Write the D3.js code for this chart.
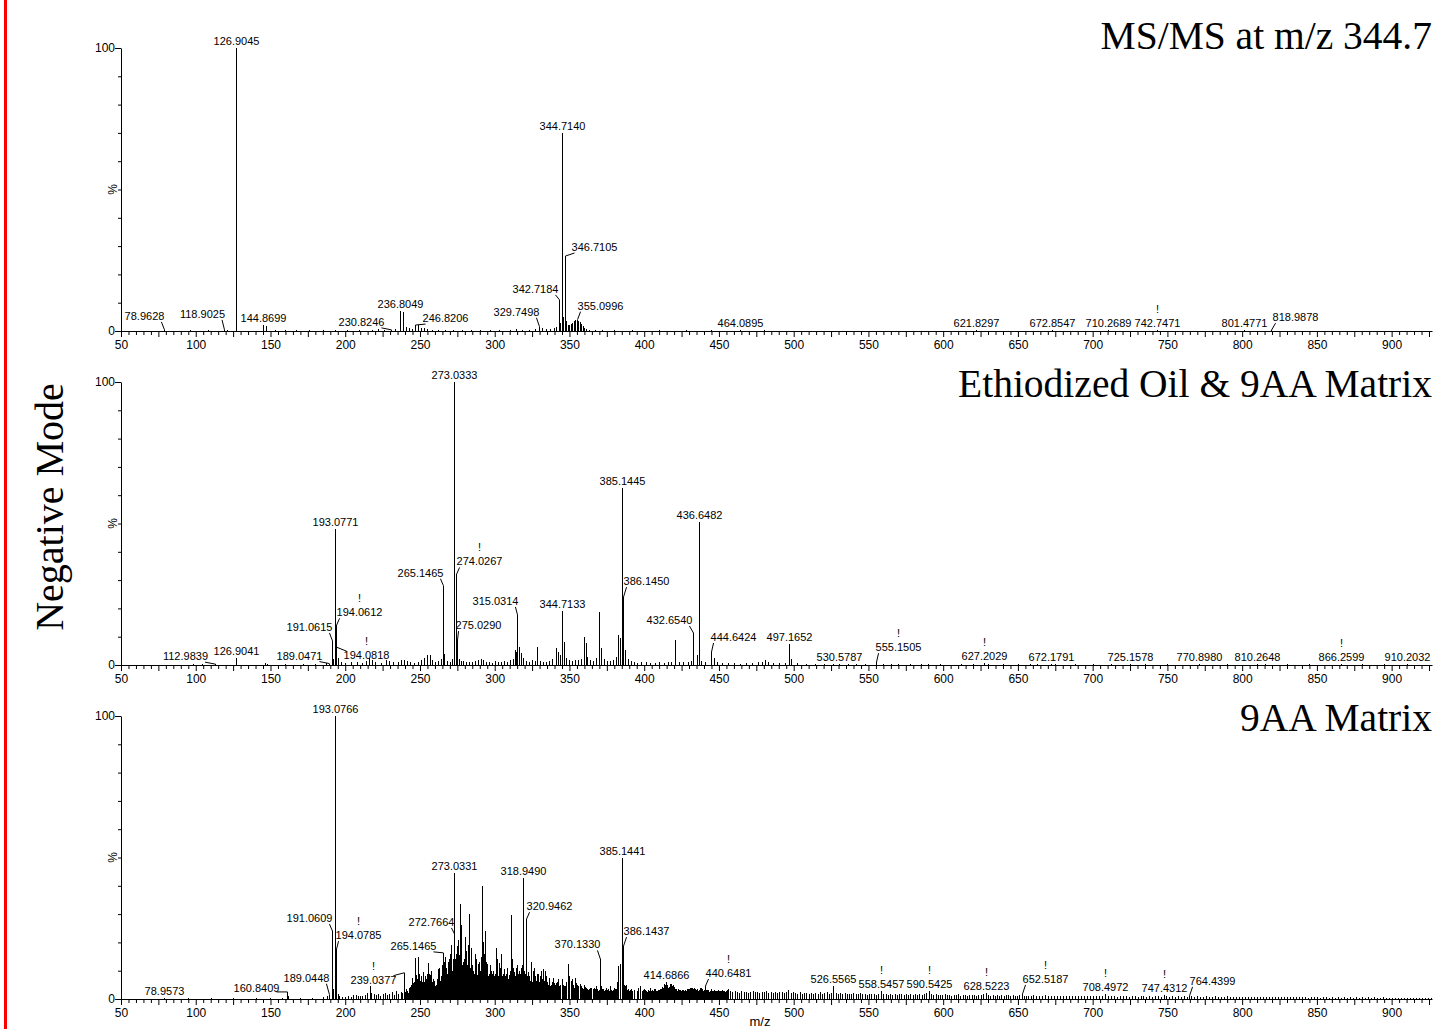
<!DOCTYPE html>
<html>
<head>
<meta charset="utf-8">
<script src="https://cdn.jsdelivr.net/npm/d3@7"></script>
<style>
  body { margin: 0; background: #fff; }
  svg { display: block; }
  .peak-label, .bang { font-family: Arial, "Liberation Sans", sans-serif; font-size: 11px; fill: #000; }
  .title { font-family: "Times New Roman", "Liberation Serif", serif; font-size: 39.5px; fill: #000; }
</style>
</head>
<body>
<svg id="chart" width="1434" height="1029"></svg>
<script>
// ---- data: [m/z, relative intensity %] ----

// MS/MS at m/z 344.7
const labeled1 = [[78.9628,0.4],[118.9025,0.4],[126.9045,100],[144.8699,2],[230.8246,0.4],[236.8049,7.2],
  [246.8206,2.1],[329.7498,1.5],[342.7184,11],[344.7140,70],[346.7105,26.5],[355.0996,4],[464.0895,0.3],
  [621.8297,0.2],[672.8547,0.2],[710.2689,0.2],[742.7471,0.2],[801.4771,0.2],[818.9878,0.3]];
const noise1 = [[96,0.2],[108,0.3],[121,0.3],[146.87,1.9],[153,0.3],[160,0.4],[167,0.5],[176,0.3],[185,0.4],
  [193,0.3],[201,0.3],[209,0.4],[218,0.5],[222,0.7],[226,0.5],[233,0.6],[238.80,6.6],[240.8,1.5],[242.8,1.2],
  [244.8,0.8],[248.8,2],[250.8,1.2],[252.8,0.9],[255,0.7],[258,0.5],[262,0.4],[267,0.4],[272,0.5],[278,0.3],
  [284,0.4],[290,0.3],[297,0.4],[303,0.3],[310,0.5],[314,0.6],[318,0.4],[323,0.5],[327,0.6],[331.7,0.9],
  [334,0.7],[337,0.8],[339.7,1.2],[341,1.5],[343.7,3],[345.7,5],[347.7,3.5],[349,2],[350,2.2],[351,2.6],
  [352,3],[353,3.4],[354,3.8],[356,3.6],[357,3.2],[358,2.5],[359,1.8],[360,1.2],[361,0.8],[363,0.4],
  [367,0.3],[372,0.2],[380,0.2],[392,0.2],[410,0.2],[428,0.2],[445,0.2],[480,0.2],[520,0.15],[560,0.15],
  [600,0.15],[640,0.15],[690,0.15],[760,0.15],[850,0.15],[900,0.15]];

// Ethiodized Oil & 9AA Matrix
const labeled2 = [[112.9839,0.3],[126.9041,2.6],[189.0471,0.5],[191.0615,8.5],[193.0771,48],[194.0612,14],
  [194.0818,6.3],[265.1465,28],[273.0333,100],[274.0267,32],[275.0290,8.8],[315.0314,17.7],[344.7133,19.2],
  [385.1445,62.5],[386.1450,24],[432.6540,11.3],[436.6482,50.5],[444.6424,4.6],[497.1652,7.3],[530.5787,0.5],
  [555.1505,1],[627.2029,0.6],[672.1791,0.5],[725.1578,0.3],[770.8980,0.3],[810.2648,0.3],[866.2599,0.3],
  [910.2032,0.3]];
const noise2 = [[98,0.2],[104,0.2],[146,0.6],[148,0.5],[160,0.2],[172,0.3],[180,0.3],[187,0.6],[192,2],
  [195.3,2.4],[197,1],[200,0.8],[204,0.9],[208,1.2],[211,0.8],[214,1.4],[216,2.4],[218,1.7],[220,1.2],
  [224,0.8],[227,1.8],[229,1.5],[232,1],[235,1.2],[237,1.6],[239,1.8],[241,1.5],[243,1],[246,0.8],[249,1],
  [251,1.6],[252.6,2.5],[254.4,3.4],[256.6,3.5],[258,1.6],[260,1.2],[262,1.5],[264,2],[266.2,3.8],[268,1.5],
  [270,1.2],[271.5,2.2],[276,2],[277.5,1.5],[279,1.3],[281,1.2],[283,1],[285,0.9],[287,1.3],[289,1.8],
  [290.5,2.2],[292,1.8],[294,1.2],[296,0.9],[298,0.8],[300,1.3],[302,1.1],[304,1],[306,1.4],[308,1.2],
  [310,1.8],[312,2.2],[313.5,5.3],[314.2,4.7],[316.5,6.3],[317.5,4.2],[319,2.5],[321,1.5],[323,1.2],
  [325,1.6],[327,1.3],[328.3,6.5],[330,1.4],[332,1.2],[334,1],[336,1.3],[338,2],[340.7,5.9],[342,4.7],
  [343.5,3.5],[346.4,8],[348,2.5],[350,1.6],[352,1.4],[354,1.8],[356,1.6],[358,2.2],[359.8,9.8],[360.9,7.7],
  [362,3],[364,1.8],[366,1.5],[367.5,2.5],[369.8,18.7],[371,5.9],[373,2],[375,1.5],[377,1.3],[379,1.8],
  [381,3],[382.8,10.6],[383.9,9.4],[387.2,5.3],[389,2],[391,1.3],[393,1],[395,0.8],[398,0.9],[401,1],
  [404,0.8],[407,0.7],[410,0.9],[413,0.8],[416,1],[418,0.9],[420.6,8.8],[423,1.2],[426,0.9],[429,1],
  [431,1.5],[435,3.5],[438,1.5],[441,1],[446.7,2.6],[449,1.2],[452,0.8],[456,0.6],[460,0.7],[464,0.5],
  [468,0.6],[472,0.7],[476,0.9],[479,1.2],[480.6,1.8],[483,1],[486,0.7],[490,0.6],[494,0.7],[498.5,2],
  [502,0.6],[508,0.5],[514,0.5],[520,0.4],[526,0.4],[536,0.4],[542,0.3],[548,0.3],[560,0.4],[565,0.5],
  [570,0.4],[578,0.5],[585,0.4],[590,0.3],[598,0.3],[612,0.3],[620,0.4],[630,0.4],[640,0.3],[650,0.4],
  [658,0.5],[663,0.4],[675,0.3],[688,0.3],[700,0.3],[712,0.2],[735,0.2],[750,0.2],[790,0.2],[815,0.3],
  [830,0.2],[845,0.2],[880,0.2],[895,0.2]];

// 9AA Matrix
const labeled3 = [[78.9573,0.5],[160.8409,2.5],[189.0448,1.5],[191.0609,24],[193.0766,100],[194.0785,17.6],
  [239.0377,9.3],[265.1465,16.3],[272.7664,23],[273.0331,44.6],[318.9490,42.9],[320.9462,28.2],[370.1330,14],
  [385.1441,49.8],[386.1437,18.7],[414.6866,6],[440.6481,4.6],[526.5565,4.6],[558.5457,2.8],[590.5425,2.8],
  [628.5223,2.1],[652.5187,1.8],[708.4972,1.8],[747.4312,1.4],[764.4399,1.1]];
const noise3 = [[95,0.2],[110,0.2],[125,0.3],[140,0.3],[150,0.4],[158,0.5],[162,1],[170,0.4],[178,0.5],
  [185,0.8],[188,1],[192,3.5],[195,1.6],[196,1.2],[198,0.8],[200,0.6],[202,0.9],[204,0.7],[205.5,1.5],
  [207,1.3],[208.5,1.2],[210,0.9],[211.5,1],[213,1.4],[214.5,2],[216.5,4.6],[217.5,2.2],[219,1.6],
  [220.5,1.4],[222,1.8],[223.5,1.2],[225,1.6],[226.5,2],[228,1.5],[229.5,1.8],[231,2.3],[232.5,1.4],
  [234,2.8],[235.5,1.6],[237,2.5],[238,2],[240.5,3.4],[242,2.2],[243.5,4.2],[244.8,7.5],[245.5,5.5],
  [246.8,14.6],[247.5,8.5],[248.8,14.8],[249.5,9],[250.6,8.1],[251.5,6],[252.3,9.5],[253.3,8.1],[254,7],
  [255.1,12.8],[256,9],[257,8.5],[258,6],[259,7],[260,4.6],[261,5],[262,10.5],[262.9,11],[264,8],
  [264.6,12],[266,13],[267,15],[268,9],[269.5,14],[270,16],[271,19],[272,14],[274,16],[274.9,18.7],
  [275.5,21],[276,15.5],[276.7,33.5],[277.5,26],[278,12],[279.4,14],[280,22],[281,15],[281.6,11],
  [282.9,29.9],[283.9,18],[284.5,12],[285.5,10],[286.5,16],[287.5,14],[288.5,12.2],[289,12.5],[290,10],
  [291.2,40],[292,20],[293.4,24],[294,13],[295,12.2],[296,9],[297,12],[298,8.5],[299,10],[299.6,8],
  [300.6,18.1],[301.7,14],[302.8,12.8],[303.5,11],[304.5,16],[305.5,9],[306,10.5],[307,8],[308,11],
  [309,7],[310,10],[310.8,29.7],[311.5,14],[312.3,11],[313,9.5],[314.1,11],[315,12],[316,10],[317,9],
  [318,12],[319.5,10],[321.5,8],[322.5,9.5],[323.5,6.5],[324.3,13],[325.3,9.9],[326,11],[327,8],[328,8.7],
  [329,9],[330.8,9.9],[331.5,7],[332.4,10.5],[333.5,10],[334.5,5.5],[336,7.5],[337,4.5],[338,6],[339,7.5],
  [340,5],[341,5.5],[342,7],[343,4.5],[344.7,7],[345.5,5],[346.5,4.5],[347.5,6],[348.7,12.3],[349.5,8],
  [350.7,6.4],[351.5,7],[352.5,5],[353.5,7.5],[354.7,5.8],[355.5,4.5],[356.9,5.2],[358,4.5],[359,3.5],
  [360,5],[361,4],[362,3.5],[363.6,4],[364.5,4],[365.5,3],[367,3.5],[368,4.5],[369,3],[371,4.5],[372,3.5],
  [373,3],[374.5,3.8],[375.5,2.8],[377,4.6],[378,3],[379,3.2],[380,4],[381,3.6],[382.8,11.7],[384.1,12.3],
  [387.5,5],[388,3.5],[389.5,3],[391,3.6],[392,2.8],[393.5,3.2],[395,3],[396,3.8],[397,4.6],[398.5,3],
  [400,3.5],[401,3],[402,2.6],[403.7,4],[405,3],[406.5,3.5],[408,2.7],[409.5,3.2],[411,3.4],[412,4.2],
  [413.2,5.4],[415.5,5],[416.2,4],[417.1,5.2],[418.2,5.2],[419.3,4.9],[420.5,3.6],[422,3],[424,3.2],
  [425.5,2.6],[427,3],[428.5,3.4],[430,3.6],[431.6,4],[433,3.8],[434.5,3.2],[436,3],[437.2,4],[438.5,3.5],
  [439.5,2.8],[442,3.2],[443.5,2.6],[445,3.4],[446.5,3],[448,2.8],[449.5,3.2],[451,2.5],[452.5,3],[454,2.6],
  [456,3.6],[457.5,2.8],[459,2.4],[460.5,3],[462,2.5],[463.5,2.2],[465,2.8],[466.5,2.4],[468,2.6],
  [469.5,2.2],[471,2.5],[472.5,2.8],[474,2.3],[475.5,2.6],[477,2.1],[478.5,2.5],[480,2.3],[481.5,2.7],
  [483,2],[484.5,2.4],[486,2.2],[487.5,2.5],[489,2],[490.5,2.3],[492,2.4],[493.5,2],[495,2.6],[496.5,3.2],
  [498,2.2],[499.5,2.5],[501,2.2],[502.5,1.9],[504,2.3],[505.5,1.8],[507,2.2],[508.5,2],[510,1.7],
  [511.5,2.1],[513,1.8],[514.5,2.2],[516,1.9],[517.5,2.3],[519,1.7],[520.5,2],[522,2.4],[523.5,1.8],
  [525,2.1],[528,2],[529.5,1.7],[531,2.2],[532.5,1.8],[534,2],[535.5,1.6],[537,1.9],[538.5,1.7],[540,2.1],
  [541.5,1.6],[543,1.8],[544.5,2],[546,1.7],[547.5,1.9],[549,1.5],[550.5,1.8],[552,1.6],[553.5,1.9],
  [555,1.5],[556.5,1.7],[560,1.6],[561.5,1.8],[563,1.4],[564.5,1.7],[566,1.5],[567.5,1.8],[569,1.4],
  [570.5,1.6],[572,1.8],[573.5,1.4],[575,1.6],[576.5,1.5],[578,1.7],[579.5,1.3],[581,1.6],[582.5,1.4],
  [584,1.7],[585.5,1.5],[587,1.8],[588.5,2.2],[592,1.6],[593.5,1.4],[595,1.7],[596.5,1.3],[598,1.5],
  [599.5,1.4],[601,1.6],[602.5,1.3],[604,1.5],[605.5,1.2],[607,1.5],[608.5,1.3],[610,1.6],[611.5,1.2],
  [613,1.4],[614.5,1.5],[616,1.2],[617.5,1.4],[619,1.3],[620.5,1.5],[622,1.2],[623.5,1.4],[625,1.3],
  [626.5,1.6],[630,1.4],[631.5,1.2],[633,1.5],[634.5,1.1],[636,1.3],[637.5,1.2],[639,1.4],[640.5,1.1],
  [642,1.3],[643.5,1.5],[645,1.1],[646.5,1.3],[648,1.2],[649.5,1],[651,1.3],[654,1.2],[655.5,1],[657,1.2],
  [658.5,1.1],[660,1.3],[662,1],[664,1.2],[666,1.1],[668,1.4],[670,1],[672,1.2],[674,1.1],[676,0.9],
  [678,1.2],[680,1],[682,1.1],[684,0.9],[686,1.2],[688,1],[690,1.1],[692,0.9],[694,1.1],[696,1],[698,1.2],
  [700,0.9],[702,1.1],[704,1],[706,0.9],[710,1.1],[712,0.9],[714,1],[716,0.8],[718,1.1],[720,0.9],[722,1],
  [724,0.8],[726,1],[728,0.9],[730,0.8],[732,1],[734,0.9],[736,0.8],[738,1],[740,0.8],[742,0.9],[744,1],
  [746,0.8],[749,0.9],[751,0.8],[753,1],[755,0.8],[757,0.9],[759,0.7],[761,0.9],[763,0.8],[766,0.9],
  [768,0.7],[770,0.9],[772,0.8],[774,0.7],[776,0.9],[778,0.8],[780,0.7],[782,0.9],[784,0.7],[786,0.8],
  [788,0.7],[790,0.9],[792,0.7],[794,0.8],[796,0.6],[798,0.8],[800,0.7],[802,0.8],[804,0.6],[806,0.8],
  [808,0.7],[810,0.6],[812,0.8],[814,0.7],[816,0.6],[818,0.8],[820,0.7],[822,0.6],[824,0.7],[826,0.8],
  [828,0.6],[830,0.7],[832,0.6],[834,0.8],[836,0.6],[838,0.7],[840,0.6],[842,0.7],[844,0.5],[846,0.7],
  [848,0.6],[850,0.7],[852,0.5],[854,0.6],[856,0.7],[858,0.5],[860,0.6],[862,0.5],[864,0.7],[866,0.5],
  [868,0.6],[870,0.5],[872,0.6],[874,0.5],[876,0.6],[878,0.5],[880,0.6],[882,0.5],[884,0.6],[886,0.4],
  [888,0.6],[890,0.5],[892,0.4],[894,0.6],[896,0.5],[898,0.4],[900,0.5],[902,0.4],[904,0.5],[906,0.4],
  [908,0.5],[910,0.4],[912,0.5],[914,0.4],[916,0.5],[918,0.4],[920,0.5],[922,0.4],[924,0.4],[926,0.3]];
// the dense cluster of smaller peaks between the labelled ones (9AA Matrix)
const cluster3 = [[240,2.5],[241,3],[242.5,4],[243,3],[244,5],[245,4],[246,6],[247,10],[248,7],[249,11],
  [250,6.5],[251,5],[252,7],[253,6],[254.5,9],[255.5,7.5],[256.5,6],[257.5,10],[258.5,5.5],[259.5,6.5],
  [260.5,5],[261.5,7],[263,9],[263.5,6.5],[265,8],[265.5,10],[266.5,9],[267.5,11],[268.5,13],[269,8],
  [270.5,12],[271.5,10],[272.5,16],[273.5,14],[274.5,12],[276.2,11],[277,18],[278.5,13],[279,9],[280.5,17],
  [281.3,12],[282,19],[283,14],[283.5,11],[284,8],[285,12],[286,9],[287,11],[288,8.5],[289.5,13],[290.5,15],
  [291.7,17],[292.5,12],[293,16],[294.5,10],[295.5,8],[296.5,7.5],[297.5,10],[298.5,9],[300,9],[301,11],
  [302,8],[303,7],[304,9.5],[305,8],[306.5,7],[307.5,9],[308.5,6],[309.5,8.5],[312,9],[313.5,8],[314.5,7],
  [315.5,9],[316.5,8],[317.5,11],[318.5,8],[319,7],[320,9],[321,6.5],[322,7],[323,8],[324,7.5],[325,6],
  [325.8,8],[326.5,9],[327.5,6.5],[328.5,7],[329.5,6],[330,8],[331,6],[332,7.5],[333,6.5],[334,8],[335,6],
  [335.5,5],[336.5,5.5],[337.5,5],[338.5,4.5],[339.5,5.5],[340.5,4],[341.5,6],[342.5,5],[343.5,4.5],[344,5],
  [345,4],[346,5],[347,4.5],[348,5],[349,5.5],[350,4.5],[351,5],[352,5.5],[353,4],[354,4.5],[355,5],[356,4],
  [357,4.5],[357.5,3.5],[358.5,4],[359.5,3.8],[360.5,4.2],[361.5,3.5],[362.5,3.2],[363,3.6],[364,3],
  [366,3.4],[366.5,3.8],[367.5,3],[368.5,3.6],[370,3.2],[370.5,3.5],[371.5,3],[372.5,3.4],[373.5,3.2],
  [374,3],[375,3.2],[376,3.4],[376.5,2.8],[377.5,3.2],[378.5,3],[379.5,2.8],[380.5,3.6],[381.5,4],[382,6],
  [383.5,8],[385.5,6],[386.5,5],[387,4.5],[388.5,3.2],[389,3.4],[390,3],[390.5,3.2],[399,3],[399.5,3.3],
  [400.5,3.1],[401.5,2.8],[402.5,3.3],[403,3],[404,3.5],[404.5,2.9],[405.5,3.3],[406,2.8],[407,3.2],
  [407.5,3.6],[408.5,3],[409,2.7],[410,3.3],[410.5,3.7],[411.5,3.1],[412.5,3.9],[413.7,4.5],[414,5],
  [415,4.6],[416.7,4.4],[417.6,4.8],[418.7,4.6],[419.8,4.2],[421,3.4],[421.5,3.2],[422.5,3.4],[423,3],
  [423.5,3.3],[424.5,2.9],[425,3.1],[426,3.3],[426.5,2.8],[427.5,3.2],[428,3],[429,3.5],[429.5,3.2],
  [430.5,3.8],[431,3.4],[432,3.9],[432.5,3.5],[433.5,3.3],[434,3.6],[435,3.4],[435.5,3.1],[436.5,3.3],
  [437.7,3.8],[438,3.4],[439,3],[440,3.3],[440.5,3],[441,3.4],[441.5,3.1],[442.5,3],[443,3.3],[444,2.9],
  [444.5,3.2],[445.5,3],[446,2.8],[447,3.1],[447.5,2.7],[448.5,3],[449,2.6],[450,3],[450.5,2.8],[451.5,2.7],
  [452,3.1],[453,2.6],[453.5,2.9],[454.5,2.7],[455,2.9],[455.5,3.2]];

const titles = ["MS/MS at m/z 344.7", "Ethiodized Oil & 9AA Matrix", "9AA Matrix"];
const xLabelTicks = [50,100,150,200,250,300,350,400,450,500,550,600,650,700,750,800,850,900];
const yLabelTicks = [0, 100];
const bangs1 = ["742.7471"];
const bangs2 = ["274.0267","194.0612","194.0818","555.1505","627.2029","866.2599"];
const bangs3 = ["194.0785","239.0377","440.6481","558.5457","590.5425","628.5223","652.5187","708.4972","747.4312"];

// ---- layout: label offsets (px) away from their peak, with a leader line ----
const nudge1 = {"346.7105":[29,-2],"342.7184":[-24,-4],"355.0996":[23,-7],"329.7498":[-23,-8],
  "246.8206":[30,0],"230.8246":[-30,-1],"118.9025":[-22,-9],"78.9628":[-20,-7],"818.9878":[24,-6]};
const nudge2 = {"274.0267":[23,-6],"265.1465":[-23,-6],"386.1450":[23,-9],"315.0314":[-22,-7],
  "432.6540":[-24,-6],"444.6424":[22,-8],"275.0290":[21,-8],"191.0615":[-23,-7],"194.0612":[23,-6],
  "194.0818":[30,15],"189.0471":[-30,-1],"112.9839":[-30,-1],"555.1505":[22,-8]};
const nudge3 = {"320.9462":[23,-6],"272.7664":[-23,-5],"265.1465":[-30,0],"386.1437":[23,-8],
  "370.1330":[-23,-8],"440.6481":[23,-6],"191.0609":[-23,-6],"194.0785":[22,-7],"189.0448":[-23,-10],
  "160.8409":[-31,3],"239.0377":[-31,14],"652.5187":[23,-8],"764.4399":[23,-8]};

const panels = [
  {top: 48,  title: titles[0], titleY: 49,  labeled: labeled1, noise: noise1, nudge: nudge1, bangs: bangs1},
  {top: 382, title: titles[1], titleY: 397, labeled: labeled2, noise: noise2, nudge: nudge2, bangs: bangs2},
  {top: 716, title: titles[2], titleY: 731, labeled: labeled3, noise: noise3.concat(cluster3), nudge: nudge3, bangs: bangs3},
];
const panelH = 283;

const svg = d3.select('#chart');
const x = d3.scaleLinear().domain([50, 927]).range([121, 1432]);
const sx = mz => Math.round(x(mz)) + 0.5;

// red frame edge on the left
svg.append('rect').attr('x', 4).attr('y', 0).attr('width', 3).attr('height', 1029).attr('fill', '#ff0000');

// vertical mode label
svg.append('text')
  .attr('class', 'title')
  .attr('transform', 'translate(63,507) rotate(-90)')
  .attr('text-anchor', 'middle')
  .style('font-size', '40px')
  .text('Negative Mode');

panels.forEach(p => {
  const y0 = p.top + panelH;
  const y = d3.scaleLinear().domain([0, 100]).range([y0, p.top]);
  const g = svg.append('g').attr('class', 'panel');

  // sticks
  const sticks = p.noise.concat(p.labeled);
  g.append('g').selectAll('line').data(sticks).join('line')
    .attr('x1', d => sx(d[0])).attr('x2', d => sx(d[0]))
    .attr('y1', y0).attr('y2', d => y(d[1]))
    .attr('stroke', '#000').attr('stroke-width', 1)
    .attr('shape-rendering', 'crispEdges');

  // x axis
  const gx = g.append('g').attr('transform', `translate(0,${y0})`)
    .call(d3.axisBottom(x)
      .tickValues(d3.range(50, 927, 5))
      .tickFormat(d => xLabelTicks.includes(d) ? d : '')
      .tickSize(4).tickSizeOuter(0).tickPadding(5.5));
  gx.selectAll('.tick line').attr('y2', d => d % 25 === 0 ? 6 : 4);
  gx.selectAll('text').attr('font-size', 12).attr('font-family', 'Arial, "Liberation Sans", sans-serif');

  // y axis
  const gy = g.append('g').attr('transform', 'translate(121,0)')
    .call(d3.axisLeft(y)
      .tickValues(d3.range(0, 101, 10))
      .tickFormat(d => yLabelTicks.includes(d) ? d : '')
      .tickSize(3).tickSizeOuter(0).tickPadding(3));
  gy.selectAll('.tick line').attr('x2', d => yLabelTicks.includes(d) ? -6 : -3);
  gy.selectAll('text').attr('font-size', 12).attr('font-family', 'Arial, "Liberation Sans", sans-serif');

  g.append('text')
    .attr('transform', `translate(117,${y(50)}) rotate(-90)`)
    .attr('text-anchor', 'middle')
    .attr('font-size', 12).attr('font-family', 'Arial, "Liberation Sans", sans-serif')
    .text('%');

  // peak labels
  p.labeled.forEach(d => {
    const name = d[0].toFixed(4);
    const px = sx(d[0]), py = y(d[1]);
    const [dx, dy] = p.nudge[name] || [0, 0];
    const cx = px + dx, base = py - 3 + dy;
    const t = g.append('text').attr('class', 'peak-label')
      .attr('x', cx).attr('y', base).attr('text-anchor', 'middle').text(name);
    if (dx || dy) {
      const w = t.node().getComputedTextLength();
      const ex = dx > 0 ? cx - w / 2 + 3 : cx + w / 2 - 3;
      const ey = Math.max(base - 8, Math.min(py, base + 2));
      g.append('line').attr('x1', ex).attr('y1', ey).attr('x2', px).attr('y2', py)
        .attr('stroke', '#000').attr('stroke-width', 1);
    }
    if (p.bangs.includes(name)) {
      g.append('text').attr('class', 'bang').attr('x', cx).attr('y', base - 14)
        .attr('text-anchor', 'middle').text('!');
    }
  });

  // panel title
  g.append('text').attr('class', 'title')
    .attr('x', 1432).attr('y', p.titleY).attr('text-anchor', 'end').text(p.title);
});

// x axis title at the bottom edge
svg.append('text')
  .attr('x', 760).attr('y', 1026).attr('text-anchor', 'middle')
  .attr('font-size', 13).attr('font-family', 'Arial, "Liberation Sans", sans-serif')
  .text('m/z');
</script>
</body>
</html>
